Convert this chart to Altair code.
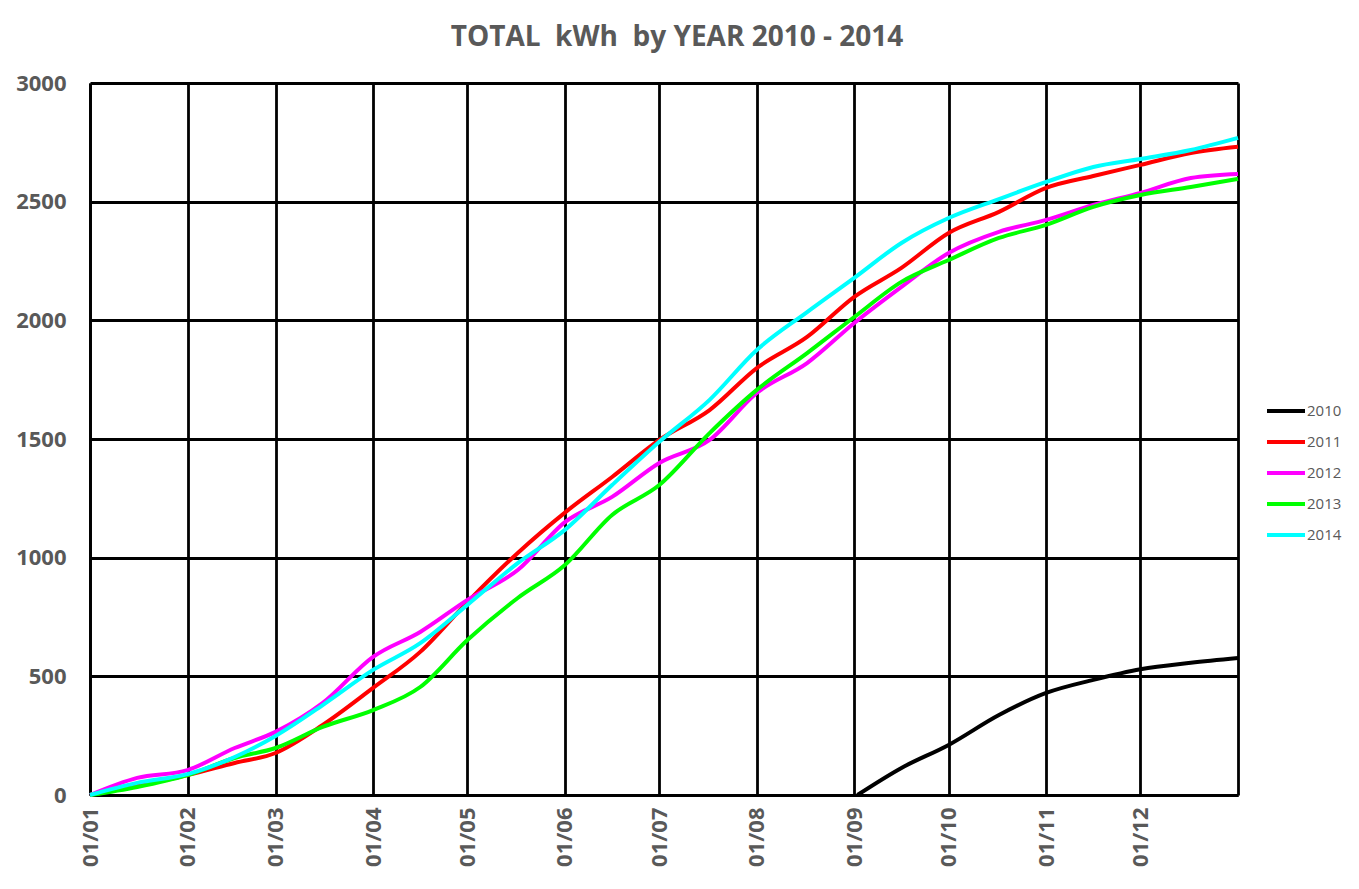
import altair as alt
import pandas as pd

# ---- data ----
years = ["2010", "2011", "2012", "2013", "2014"]
colors = ["#000000", "#FF0000", "#FF00FF", "#00FF00", "#00FFFF"]

days_full = [0, 15, 31, 46, 59, 74, 90, 105, 120, 136, 151, 166, 181, 197,
             212, 228, 243, 258, 273, 289, 304, 319, 334, 350, 365]
days_2010 = [244, 258, 273, 289, 304, 319, 334, 350, 365]

kwh_2010 = [0, 114, 211, 337, 430, 485, 530, 557, 577]
kwh_2011 = [0, 38, 84, 135, 177, 295, 451, 603, 813, 1020, 1190, 1340, 1496,
            1622, 1799, 1930, 2099, 2221, 2368, 2457, 2558, 2608, 2655, 2705, 2731]
kwh_2012 = [0, 72, 105, 198, 266, 388, 582, 687, 822, 948, 1150, 1256, 1399,
            1496, 1694, 1820, 1989, 2141, 2284, 2373, 2423, 2486, 2537, 2600, 2617]
kwh_2013 = [0, 34, 84, 156, 198, 287, 358, 455, 653, 830, 969, 1180, 1306,
            1525, 1707, 1862, 2014, 2162, 2254, 2347, 2402, 2478, 2528, 2562, 2596]
kwh_2014 = [0, 51, 88, 160, 249, 379, 527, 640, 801, 977, 1117, 1306, 1488,
            1665, 1875, 2035, 2179, 2326, 2431, 2511, 2583, 2646, 2680, 2718, 2769]

month_days = [0, 31, 59, 90, 120, 151, 181, 212, 243, 273, 304, 334, 365]
month_labels = ["01/01", "01/02", "01/03", "01/04", "01/05", "01/06", "01/07",
                "01/08", "01/09", "01/10", "01/11", "01/12", ""]
y_ticks = [0, 500, 1000, 1500, 2000, 2500, 3000]

rows = []
series = [("2010", days_2010, kwh_2010), ("2011", days_full, kwh_2011),
          ("2012", days_full, kwh_2012), ("2013", days_full, kwh_2013),
          ("2014", days_full, kwh_2014)]
for yr, ds, vs in series:
    for d, v in zip(ds, vs):
        rows.append({"year": yr, "day": d, "kwh": v})
df = pd.DataFrame(rows)

label_expr = " : ".join(f"datum.value == {d} ? '{l}'" for d, l in zip(month_days, month_labels)) + " : ''"

FONT = "Open Sans"
GRAY = "#595959"

chart = alt.Chart(df).mark_line(strokeWidth=4, interpolate="monotone").encode(
    x=alt.X("day:Q",
            scale=alt.Scale(domain=[0, 365], nice=False, zero=False),
            axis=alt.Axis(values=month_days, labelExpr=label_expr, labelAngle=270,
                          labelAlign="right", labelBaseline="middle",
                          grid=True, gridColor="black", gridWidth=2.8, gridOpacity=1,
                          domainColor="black", domainWidth=2.8, ticks=False,
                          labelFont=FONT, labelFontWeight="bold", labelFontSize=22,
                          labelColor=GRAY, labelPadding=12, title=None)),
    y=alt.Y("kwh:Q",
            scale=alt.Scale(domain=[0, 3000], nice=False),
            axis=alt.Axis(values=y_ticks, format="d", grid=True, gridColor="black",
                          gridWidth=2.8, gridOpacity=1, domainColor="black",
                          domainWidth=2.8, ticks=False, labelFont=FONT,
                          labelFontWeight="bold", labelFontSize=22, labelColor=GRAY,
                          labelPadding=24, title=None)),
    color=alt.Color("year:N",
                    scale=alt.Scale(domain=years, range=colors),
                    legend=alt.Legend(title=None, orient="none", legendX=1175, legendY=307,
                                      symbolType="stroke", symbolStrokeWidth=4,
                                      symbolSize=1444, labelFont=FONT, labelFontSize=15,
                                      labelColor=GRAY, rowPadding=2, padding=0,
                                      labelOffset=0)),
    order=alt.Order("day:Q"),
).properties(
    width=1148,
    height=712,
    title=alt.TitleParams("TOTAL\u00a0 kWh\u00a0 by YEAR 2010 - 2014", font=FONT,
                          fontSize=28, fontWeight="bold", color=GRAY,
                          anchor="middle", dx=13, offset=20),
    autosize=alt.AutoSizeParams(type="none"),
    padding={"left": 82, "top": 75, "right": 113, "bottom": 86},
    background="white",
).configure_view(stroke=None)

chart.save("out.html", embed_options={"renderer": "svg", "actions": False})
